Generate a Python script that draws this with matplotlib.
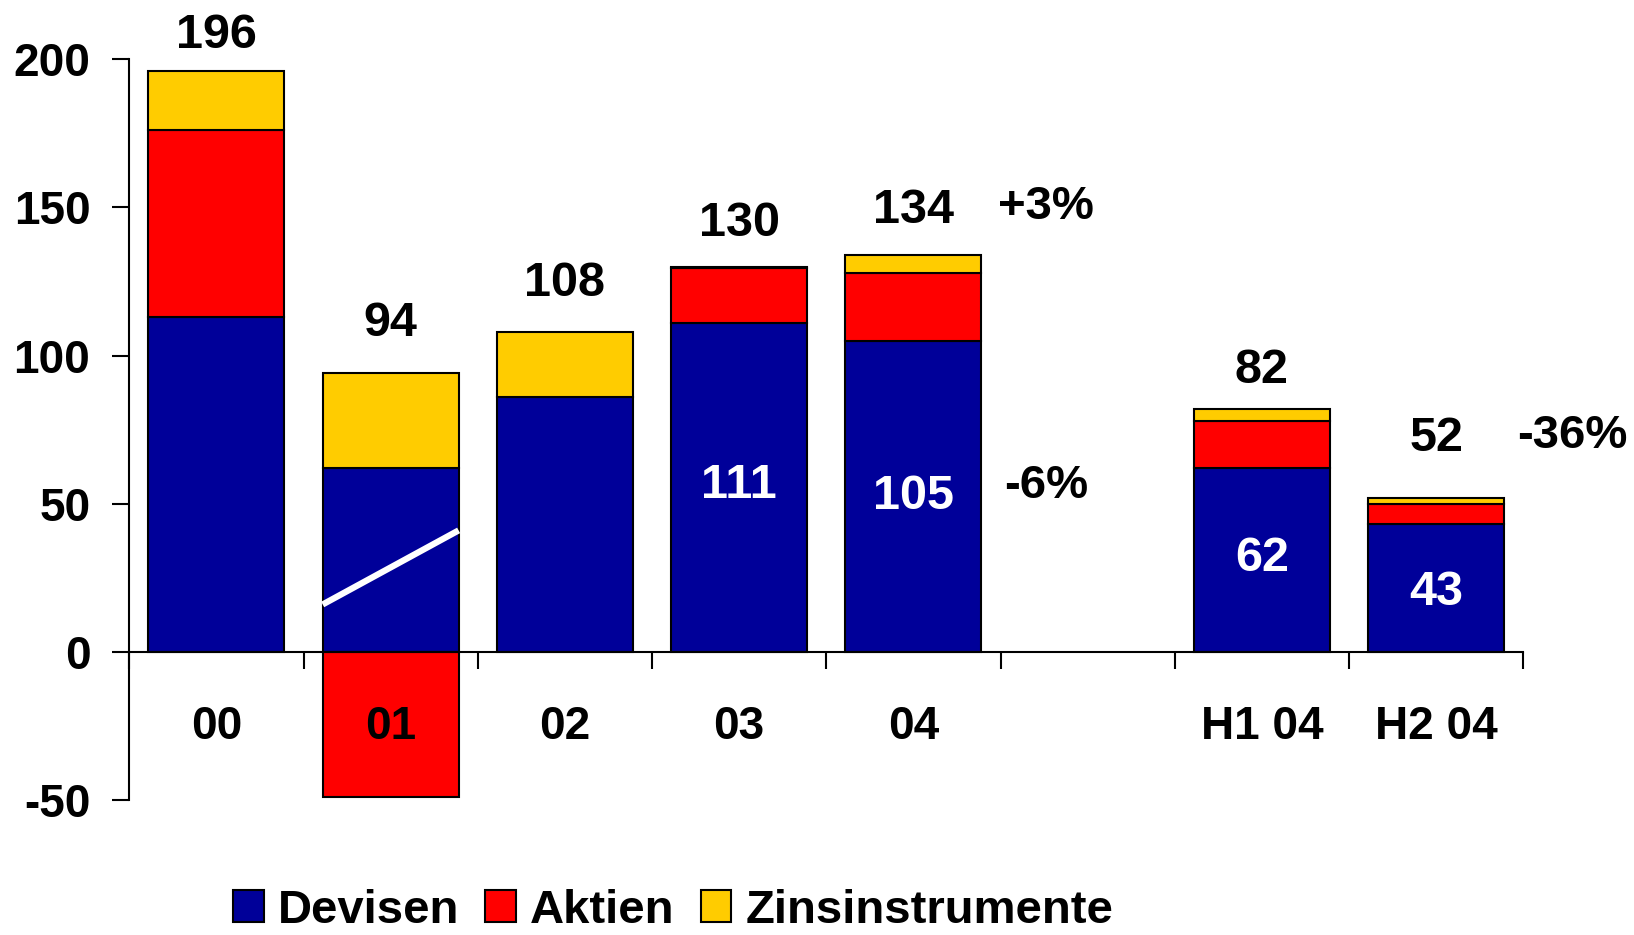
import numpy as np
import matplotlib
matplotlib.use("Agg")
import matplotlib.pyplot as plt

plt.rcParams['font.family'] = ['Liberation Sans', 'DejaVu Sans']
plt.rcParams['font.weight'] = 'bold'
plt.rcParams['axes.unicode_minus'] = False

# data
categories = ['00', '01', '02', '03', '04', '', 'H1 04', 'H2 04']
devisen = [113, 62, 86, 111, 105, 0, 62, 43]
aktien = [63, -49, 0, 18.7, 23, 0, 16, 7]
zins = [20, 32, 22, 0.3, 6, 0, 4, 2]
totals = ['196', '94', '108', '130', '134', '', '82', '52']
inner = ['', '', '', '111', '105', '', '62', '43']

# label heights (data units)
total_y = [208, 111, 124.5, 144.5, 149, 0, 95, 72]
inner_y = [0, 0, 0, 56, 52.5, 0, 31.5, 20]

colors = {'Devisen': '#000099', 'Aktien': '#FF0000', 'Zinsinstrumente': '#FFCC00'}

fig = plt.figure(figsize=(16.34, 9.35), dpi=100)
ax = fig.add_axes([0.0791, 0.1444, 0.8532, 0.7921])

x = np.arange(len(categories)) + 0.5
w = 0.78
pos_bottom = np.zeros(len(categories))
neg_bottom = np.zeros(len(categories))
for name, vals in [('Devisen', devisen), ('Aktien', aktien), ('Zinsinstrumente', zins)]:
    vals = np.array(vals, dtype=float)
    bottom = np.where(vals >= 0, pos_bottom, neg_bottom)
    mask = vals != 0
    ax.bar(x[mask], vals[mask], w, bottom=bottom[mask], color=colors[name],
           edgecolor='black', linewidth=1.5, label=name, zorder=2)
    pos_bottom += np.where(vals > 0, vals, 0)
    neg_bottom += np.where(vals < 0, vals, 0)

# white break line in the 01 bar
ax.plot([x[1] - w / 2, x[1] + w / 2], [16, 41], color='white', lw=4.5,
        solid_capstyle='butt', zorder=3)

for i in range(len(categories)):
    if totals[i]:
        ax.text(x[i], total_y[i], totals[i], ha='center', va='center',
                fontsize=35, fontweight='bold', clip_on=False)
    if inner[i]:
        ax.text(x[i], inner_y[i], inner[i], ha='center', va='center',
                fontsize=35, fontweight='bold', color='white', zorder=4)
    if categories[i]:
        ax.text(x[i], -25.5, categories[i], ha='center', va='center',
                fontsize=33, fontweight='bold', zorder=4)

ax.text(5.26, 150, '+3%', ha='center', va='center', fontsize=34, fontweight='bold')
ax.text(5.26, 56, '-6%', ha='center', va='center', fontsize=34, fontweight='bold')
ax.text(8.28, 73, '-36%', ha='center', va='center', fontsize=34,
        fontweight='bold', clip_on=False)

ax.set_xlim(0, 8)
ax.set_ylim(-50, 200)
ax.set_yticks([-50, 0, 50, 100, 150, 200])
ax.set_xticks(np.arange(0, 9))
ax.set_xticklabels([])
ax.tick_params(axis='y', direction='out', length=12, width=1.5, pad=16, labelsize=33)
ax.tick_params(axis='x', direction='out', length=12, width=1.5)
for lbl in ax.get_yticklabels():
    lbl.set_fontweight('bold')

ax.spines['top'].set_visible(False)
ax.spines['right'].set_visible(False)
ax.spines['bottom'].set_position(('data', 0))
ax.spines['left'].set_linewidth(1.5)
ax.spines['bottom'].set_linewidth(1.5)
ax.spines['bottom'].set_zorder(3)

fig.legend(loc='center', bbox_to_anchor=(0.412, 0.026), ncol=3, frameon=False,
           handlelength=0.65, handleheight=0.65, handletextpad=0.3,
           columnspacing=0.55, borderpad=0.1, prop={'weight': 'bold', 'size': 34})

fig.savefig('out.png', dpi=100)
